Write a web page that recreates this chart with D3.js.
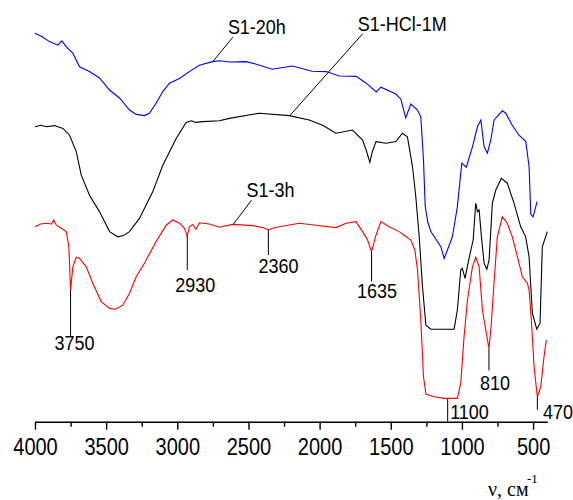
<!DOCTYPE html>
<html>
<head>
<meta charset="utf-8">
<script src="https://cdn.jsdelivr.net/npm/d3@7"></script>
<style>
  body { margin: 0; background: white; }
  #art text { font-family: Arial, "Liberation Sans", sans-serif; fill: black; }
</style>
</head>
<body>
<div id="art"></div>
<script>
// wavenumber (cm-1), transmittance (arb. units, 0-100)
const s1_20h = [
  [4000, 99.2], [3950, 98.3], [3898, 97.1], [3839, 96.2], [3811, 97.3], [3780, 95.8],
  [3734, 94.2], [3687, 90.8], [3617, 89.6], [3547, 88.0], [3476, 85.0], [3406, 83.0],
  [3336, 80.0], [3289, 78.9], [3231, 78.6], [3196, 79.2], [3149, 81.7], [3102, 84.6],
  [3055, 86.7], [2985, 87.9], [2915, 89.6], [2845, 91.2], [2753, 92.1], [2700, 92.3],
  [2630, 92.0], [2517, 92.1], [2450, 91.5], [2332, 90.2], [2192, 91.0], [2052, 89.7],
  [1953, 89.6], [1862, 88.5], [1743, 88.4], [1673, 86.7], [1602, 84.5], [1569, 85.7],
  [1464, 84.0], [1429, 82.7], [1395, 78.0], [1359, 81.5], [1312, 80.0], [1289, 78.3],
  [1270, 67.5], [1258, 56.0], [1240, 52.0], [1218, 49.6], [1148, 45.8], [1125, 42.9],
  [1102, 45.0], [1067, 48.3], [1032, 55.8], [1001, 66.7], [969, 65.7], [926, 70.8],
  [891, 75.8], [867, 77.5], [844, 70.8], [821, 69.2], [797, 72.5], [774, 77.5],
  [716, 79.8], [692, 79.2], [646, 76.2], [599, 73.7], [551, 72.1], [528, 65.8],
  [516, 54.0], [500, 53.3], [490, 54.6], [472, 57.1]
];

const s1_hcl = [
  [4000, 75.8], [3960, 76.2], [3921, 75.8], [3862, 76.1], [3804, 75.4], [3757, 73.7],
  [3710, 69.6], [3675, 63.7], [3617, 58.7], [3547, 54.6], [3476, 49.6], [3418, 48.3],
  [3380, 48.6], [3336, 49.6], [3266, 52.9], [3172, 59.6], [3102, 66.2], [3008, 72.9],
  [2938, 76.9], [2900, 77.3], [2870, 76.9], [2822, 77.1], [2704, 77.3], [2634, 77.9],
  [2424, 79.2], [2213, 78.6], [2073, 77.5], [1979, 76.2], [1885, 74.2], [1769, 75.0],
  [1698, 72.5], [1673, 70.0], [1647, 66.9], [1630, 69.5], [1604, 72.1], [1534, 71.7],
  [1464, 72.1], [1418, 74.2], [1383, 73.3], [1347, 65.8], [1324, 58.3], [1300, 48.3],
  [1277, 35.8], [1253, 26.2], [1218, 25.2], [1055, 25.2], [1032, 30.0], [1008, 40.0],
  [997, 40.4], [978, 37.9], [950, 42.9], [921, 47.5], [903, 56.7], [891, 54.6],
  [879, 55.0], [863, 48.3], [844, 41.7], [825, 40.2], [809, 42.5], [786, 56.7],
  [762, 60.0], [723, 62.9], [681, 61.7], [634, 56.7], [587, 50.8], [552, 48.3],
  [528, 43.3], [505, 29.2], [474, 25.2], [451, 26.7], [435, 45.8], [400, 49.6]
];

const s1_3h = [
  [4000, 50.8], [3960, 51.5], [3921, 51.7], [3883, 51.5], [3869, 52.5], [3850, 51.2],
  [3804, 50.2], [3780, 49.6], [3762, 45.8], [3750, 35.0], [3734, 40.8], [3710, 43.2],
  [3687, 42.9], [3640, 40.8], [3594, 36.7], [3535, 32.1], [3476, 30.4], [3434, 30.2],
  [3383, 31.2], [3336, 34.2], [3289, 38.3], [3231, 41.7], [3149, 47.1], [3078, 51.2],
  [3032, 52.5], [2985, 51.7], [2950, 50.4], [2930, 48.5], [2915, 50.8], [2892, 51.4],
  [2868, 50.2], [2845, 51.8], [2775, 51.5], [2704, 50.7], [2611, 51.4], [2471, 51.1],
  [2388, 50.5], [2360, 50.0], [2325, 50.5], [2283, 50.8], [2143, 51.7], [2026, 51.2],
  [1885, 50.6], [1815, 51.7], [1745, 52.1], [1698, 49.6], [1663, 47.5], [1635, 44.6],
  [1604, 48.7], [1569, 52.1], [1511, 50.8], [1441, 49.6], [1406, 48.7], [1359, 47.5],
  [1331, 45.0], [1312, 40.0], [1289, 27.5], [1270, 13.3], [1253, 9.0], [1195, 8.3],
  [1125, 7.9], [1032, 7.9], [1008, 11.7], [985, 23.3], [961, 32.5], [926, 40.8],
  [903, 43.2], [879, 40.8], [856, 30.0], [810, 20.4], [795, 25.8], [773, 37.5],
  [751, 48.3], [716, 53.3], [681, 51.7], [646, 48.3], [610, 43.3], [575, 38.3],
  [540, 36.7], [528, 35.0], [512, 27.5], [493, 15.8], [470, 8.3], [446, 10.8],
  [423, 18.3], [407, 22.5]
];

const seriesNames = ["S1-20h", "S1-HCl-1M", "S1-3h"];
const seriesLabelAt = [2750, 2210, 2607];   // wavenumber where the leader touches the curve
const peaks = [3750, 2930, 2360, 1635, 1100, 810, 470];
const majorTicks = [4000, 3500, 3000, 2500, 2000, 1500, 1000, 500];
const minorTicks = [3750, 3250, 2750, 2250, 1750, 1250, 750];

config = {
  "settings": { "width": 573, "height": 500 },
  "style": {
    "colours": ["#0000ff", "#000000", "#ff0000"],
    "stretch": 1.15,   // the original lettering is a bit taller than Arial
    "leaders": [[20, -24.4], [73, -82], [18.3, -24.3]],
    // line length, text dx, text dy (from line end) for each peak mark
    "peakMarks": {
      3750: [46, -16, 14], 2930: [34, -12, 22], 2360: [25, -10, 18], 1635: [30, -14.5, 16],
      1100: [23, 2.5, -2.5], 810: [22, -9, 20], 470: [13, 5.7, 9]
    }
  }
}

function valueAt(series, w) {
  for (let i = 0; i < series.length - 1; i++) {
    const a = series[i], b = series[i + 1];
    if (w <= a[0] && w >= b[0]) {
      const t = (a[0] - w) / (a[0] - b[0]);
      return a[1] + t * (b[1] - a[1]);
    }
  }
  return series[series.length - 1][1];
}

function label(svg, x, y, txt, size) {
  return svg.append("text")
    .attr("transform", `translate(${x},${y}) scale(1,${config.style.stretch})`)
    .style("font-size", size + "px")
    .text(txt);
}

function art() {
  const width = config.settings.width;
  const height = config.settings.height;
  const stretch = config.style.stretch;
  const allSeries = [s1_20h, s1_hcl, s1_3h];

  const svg = d3.select("#art")
    .append("svg")
    .attr("width", width)
    .attr("height", height);

  const x = d3.scaleLinear().domain([4000, 400]).range([35, 547.3]);
  const y = d3.scaleLinear().domain([0, 100]).range([430, 30]);

  const line = d3.line()
    .x(d => x(d[0]))
    .y(d => y(d[1]));

  svg.selectAll("path.spec")
    .data(allSeries)
    .enter()
    .append("path")
    .attr("class", "spec")
    .attr("d", line)
    .attr("fill", "none")
    .attr("stroke", (d, i) => config.style.colours[i])
    .attr("stroke-width", 1.1);

  // series labels with leader lines
  seriesNames.forEach((name, i) => {
    const w = seriesLabelAt[i];
    const x0 = x(w), y0 = y(valueAt(allSeries[i], w));
    const [lx, ly] = config.style.leaders[i];
    svg.append("line")
      .attr("x1", x0).attr("y1", y0)
      .attr("x2", x0 + lx).attr("y2", y0 + ly)
      .attr("stroke", "black").attr("stroke-width", 1);
    label(svg, x0 + lx - 5, y0 + ly - 3, name, 18);
  });

  // peak marks on S1-3h
  peaks.forEach(p => {
    const [len, dx, dy] = config.style.peakMarks[p];
    const px = x(p), py = y(valueAt(s1_3h, p));
    svg.append("line")
      .attr("x1", px).attr("y1", py)
      .attr("x2", px).attr("y2", py + len)
      .attr("stroke", "black").attr("stroke-width", 1);
    label(svg, px + dx, py + len + dy, p, 18);
  });

  // x axis
  const axisY = 421.7;
  const gMajor = svg.append("g")
    .attr("transform", `translate(0,${axisY})`)
    .call(d3.axisBottom(x).tickValues(majorTicks).tickSize(8).tickSizeOuter(0).tickPadding(9).tickFormat(d3.format("d")));
  gMajor.select(".domain").attr("stroke-width", 1.4);
  gMajor.selectAll(".tick line").attr("stroke-width", 1.4);
  gMajor.selectAll(".tick text")
    .style("font-size", "20px")
    .attr("y", 17.3 / stretch)
    .attr("transform", `scale(1,${stretch})`);

  const gMinor = svg.append("g")
    .attr("transform", `translate(0,${axisY})`)
    .call(d3.axisBottom(x).tickValues(minorTicks).tickSize(5).tickFormat(""));
  gMinor.select(".domain").remove();
  gMinor.selectAll(".tick line").attr("stroke-width", 1.4);

  // axis title
  svg.append("text")
    .attr("x", 488)
    .attr("y", 496)
    .style("font-family", "'Times New Roman', 'Liberation Serif', serif")
    .style("font-size", "20px")
    .text("ν, см");
  svg.append("text")
    .attr("x", 527)
    .attr("y", 483)
    .style("font-family", "'Times New Roman', 'Liberation Serif', serif")
    .style("font-size", "13px")
    .text("-1");
}

window.onload = function () {
  art();
};
</script>
</body>
</html>
